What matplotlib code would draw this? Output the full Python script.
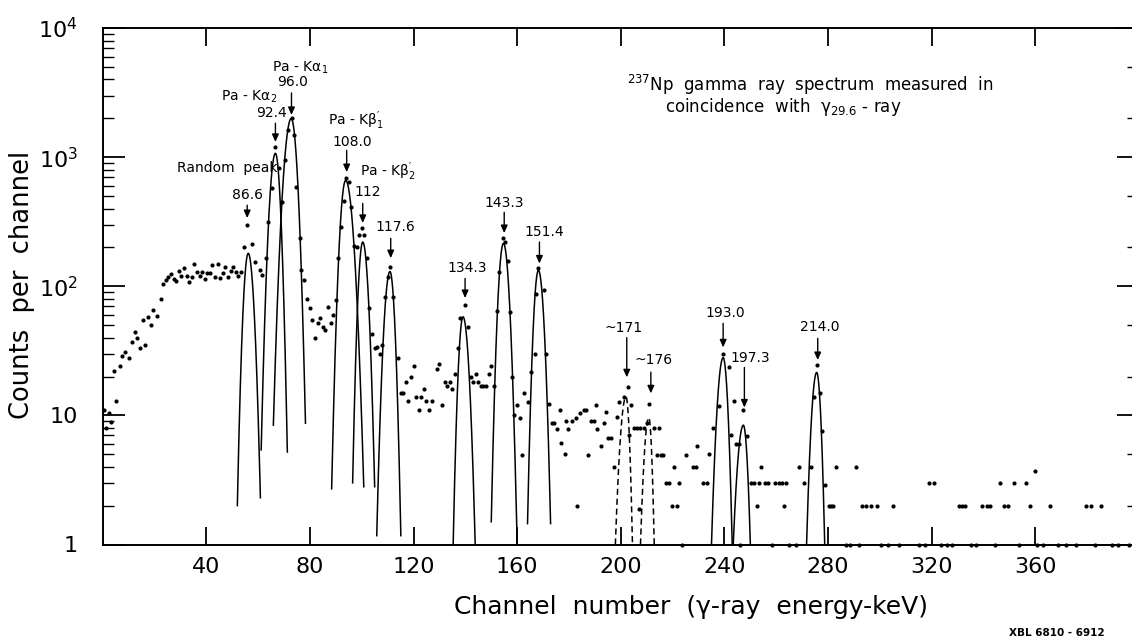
import numpy as np
import matplotlib
matplotlib.use("Agg")
import matplotlib.pyplot as plt
from matplotlib.ticker import FixedLocator, FixedFormatter, NullLocator, NullFormatter

plt.rcParams['font.family'] = ['DejaVu Sans']
plt.rcParams['mathtext.default'] = 'regular'

# ---- measured counts per channel -------------------------------------------
# low-energy continuum (channels 0-54)
ch_low = [0.5, 1.2, 2.6, 3.2, 4.3, 5.3, 6.6, 7.6, 8.6, 10.0, 11.5, 12.6, 13.4,
          14.6, 15.4, 16.5, 17.5, 18.5, 19.4, 21.0, 22.4, 23.4,
          24.4, 25.4, 26.4, 27.4, 28.4, 29.4, 30.4, 31.4, 32.4, 33.4, 34.4,
          35.4, 36.4, 37.4, 38.4, 39.4, 40.4, 41.4, 42.4, 43.4, 44.4, 45.4,
          46.4, 47.4, 48.4, 49.4, 50.4, 51.4, 52.4, 53.4]
n_low = [11, 8, 10.5, 8.9, 22, 13, 24, 29, 31, 28, 37, 44, 40,
         33, 55, 35, 58, 50, 65, 59, 80, 104,
         111, 118, 124, 114, 110, 132, 121, 138, 121, 108, 118,
         150, 128, 121, 128, 113, 126, 127, 146, 118, 150, 115,
         127, 140, 118, 132, 140, 130, 120, 130]

# Pa K x-ray region (channels 54-135)
ch_kx = [54.7, 55.8, 57.8, 58.9, 60.8, 61.6, 63.0, 64.0, 65.5, 66.7, 68.2,
         69.3, 70.5, 71.7, 73.1, 74.0, 74.8, 76.0, 76.7, 77.9, 79.0,
         80, 81, 82, 83, 84, 85, 86, 87, 88, 89, 90, 91, 92, 93, 94, 95, 96,
         97, 98, 99, 100, 101, 102, 103, 104, 105, 106, 107, 108, 109, 110,
         111, 112, 114, 115, 116, 117, 118, 119, 120, 121, 122, 123, 124, 125,
         126, 127, 129, 130, 131, 132, 133, 134]
n_kx = [203, 297, 214, 153, 133, 122, 165, 315, 575, 1200, 830,
        447, 950, 1620, 2000, 1480, 590, 235, 133, 111, 80,
        68, 55, 40, 52, 57, 48, 46, 69, 52, 60, 78, 165, 288, 460, 690, 645,
        410, 205, 200, 250, 282, 250, 165, 68, 43, 33, 34, 30, 35, 82, 117,
        141, 82, 28, 15, 15, 18, 13, 20, 24, 14, 11, 14, 16, 13,
        11, 13, 23, 25, 12, 18, 17, 18]

# gamma lines 134-151 keV (channels 135-202)
ch_mid = [135, 136, 137, 138, 139.8, 141, 142, 143, 144, 145,
          146, 147, 148, 149, 150, 151, 152.3, 153.1, 154.6, 155.4,
          156.6, 157.4, 158.2, 158.8, 160.1, 161.2, 162, 162.8, 164, 165.5,
          166.7, 167.4, 168.2, 170.2, 171.3, 172.1, 173.3, 174.4, 175.2, 176.4,
          177.1, 178.3, 178.7, 179.8, 181, 182.6, 183, 184.1, 185.7, 186.4,
          187.2, 188.4, 189.5, 190.3, 191, 192.2, 193.4, 194.2, 195, 196.2,
          197.3, 198.4, 199.2, 201.2]
n_mid = [16, 21, 33, 57, 71, 48, 20, 18, 21, 18,
         17, 17, 17, 21, 24, 17, 64, 129, 235, 219,
         158, 63, 20, 10, 12, 9.6, 4.9, 15, 12.6, 21.6,
         30, 87, 138, 93, 30, 12.3, 8.8, 8.8, 7.9, 11,
         6.1, 5, 9, 7.9, 9, 9.6, 2, 10.5, 11, 11,
         4.9, 9, 9, 12, 7.8, 5.8, 8.7, 10.7, 6.7, 6.7,
         4, 9.8, 12.6, 14]

# weak lines 171-214 keV (channels 202-283)
ch_high = [202.7, 203.1, 203.9, 205.0, 206.3, 207.0, 207.6, 208.9, 210.0, 210.9,
           212.8, 213.9, 214.7, 215.4, 216.2, 217.4, 218.7, 219.8, 220.6, 221.8,
           222.6, 225.2, 227.9, 228.9, 229.6, 231.8, 233.1, 234.2, 235.7, 237.9,
           239.6, 241.9, 242.7, 243.8, 244.6, 245.6, 247.3, 248.8, 250.4, 251.5,
           252.5, 253.5, 254.3, 255.6, 257.0, 259.6, 260.9, 262.2, 262.9, 263.8,
           268.7, 270.6, 273.3, 274.7, 275.8, 276.9, 277.8, 278.9, 280.2, 281.1,
           282.0, 282.9]
n_high = [16.6, 7, 12, 8, 8, 1.9, 8, 8, 8.7, 12.3,
          8, 4.9, 8, 4.9, 4.9, 3, 3, 2, 4, 2,
          3, 4.9, 4, 4, 5.8, 3, 3, 5, 8, 11.8,
          30, 23.5, 7, 13, 6, 6, 11, 6.9, 3, 3,
          2, 3, 4, 3, 3, 3, 3, 3, 2, 3,
          4, 3, 4, 13.8, 24.4, 15, 7.6, 2.9, 2, 2,
          2, 4]

# sparse tail (channels 290-398)
ch_tail = [290.7, 293.0, 294.5, 296.5, 299.0, 305.0, 319.0, 321.0, 330.5, 331.7,
           333.0, 339.5, 341.3, 342.6, 346.5, 347.8, 349.5, 351.6, 356.2, 357.8,
           359.7, 365.5, 379.5, 381.5, 385.5]
n_tail = [4, 2, 2, 2, 2, 2, 3, 3, 2, 2,
          2, 2, 2, 2, 3, 2, 2, 3, 3, 2,
          3.7, 2, 2, 2, 2]

# channels holding a single count (they sit on the baseline)
ch_single = [223.5, 246.0, 258.5, 265.0, 267.5, 287.0, 288.5, 291.8, 300.5,
             303.0, 307.4, 315.0, 317.4, 323.5, 326.0, 328.0, 335.0, 337.0,
             344.5, 353.5, 360.5, 363.0, 368.6, 371.7, 375.6, 383.0, 389.5,
             392.0, 396.0]
n_single = [1] * len(ch_single)

# ---- fitted peak shapes --------------------------------------------------
peak_center = [56.2, 66.7, 72.8, 93.8, 100.4, 110.9, 139.1, 154.7, 168.2,
               202.0, 210.8, 239.5, 247.3, 275.6]
peak_height = [180, 1070, 1990, 660, 220, 130, 58, 215, 133,
               13.9, 9.6, 28, 8.4, 21.5]
foot_left = [52.0, 61.2, 65.9, 88.4, 96.5, 105.8, 135.3, 150.0, 164.0,
             197.9, 207.6, 235.0, 243.4, 271.7]
foot_right = [60.9, 71.3, 78.3, 100.8, 105.0, 115.1, 143.8, 160.0, 172.9,
              204.5, 212.9, 243.0, 250.0, 278.7]
floor_left = [2.0, 5.4, 8.4, 2.7, 3.0, 1.17, 1.0, 1.5, 1.45,
              1.0, 1.0, 1.0, 1.0, 1.0]
floor_right = [2.3, 5.2, 8.7, 2.8, 2.8, 1.17, 1.0, 1.0, 1.45,
               1.0, 1.0, 1.0, 1.0, 1.0]
tentative = [False, False, False, False, False, False, False, False, False,
             True, True, False, False, False]

# ---- peak identifications (energy labels and arrows) ---------------------
label_text = ["86.6", "92.4", "96.0", "108.0", "112", "117.6", "134.3",
              "143.3", "151.4", "~171", "~176", "193.0", "197.3", "214.0"]
label_ch = [56.1, 65.0, 73.5, 96.3, 102.4, 112.9, 140.7, 154.9, 170.4,
            200.9, 212.8, 240.2, 249.9, 276.9]
label_y = [507, 2193, 3811, 1306, 535, 287, 138, 440, 262,
           47.3, 26.7, 61.8, 27.7, 48.1]
arrow_ch = [55.8, 66.7, 72.9, 94.2, 100.4, 111.2, 139.9, 155.0, 168.6,
            202.3, 211.6, 239.5, 247.7, 276.0]
arrow_from = [424, 1830, 3140, 1130, 438, 235, 115, 374, 220,
              40, 21.6, 51.6, 23.5, 39.5]
arrow_to = [337, 1310, 2120, 765, 309, 165, 81, 258, 150,
            19.7, 14.8, 33.6, 11.5, 26.8]

line_names = ["Random  peak", r"Pa - K$\alpha_{2}$", r"Pa - K$\alpha_{1}$",
              r"Pa - K$\beta^{\prime}_{1}$", r"Pa - K$\beta^{\prime}_{2}$"]
line_name_ch = [48.0, 56.5, 76.2, 97.8, 110.2]
line_name_y = [822, 2917, 4898, 1901, 765]

x_ticks = [40, 80, 120, 160, 200, 240, 280, 320, 360]
y_ticks = [1, 10, 100, 1000, 10000]
y_tick_labels = ["1", "10", "$10^{2}$", "$10^{3}$", "$10^{4}$"]

# ---- figure --------------------------------------------------------------
W, H = 1132, 639
X_MAX = 399
fig = plt.figure(figsize=(W / 100, H / 100), dpi=100)
ax = fig.add_axes([102.6 / W, 1 - 544.5 / H, 2.591 * X_MAX / W, 516.5 / H])
ax.set_yscale('log')
ax.set_xlim(0, X_MAX)
ax.set_ylim(1, 1e4)

for chs, ns in [(ch_low, n_low), (ch_kx, n_kx), (ch_mid, n_mid),
                (ch_high, n_high), (ch_tail, n_tail), (ch_single, n_single)]:
    ax.plot(chs, ns, linestyle='none', marker='o', ms=3.0, color='black',
            mec='none', clip_on=False, zorder=3)

for c, h, l, r, fl, fr, dashed in zip(peak_center, peak_height, foot_left,
                                      foot_right, floor_left, floor_right,
                                      tentative):
    sl = (c - l) / np.sqrt(2 * np.log(h / fl))
    sr = (r - c) / np.sqrt(2 * np.log(h / fr))
    xl = np.linspace(l, c, 80)
    xr = np.linspace(c, r, 80)
    xs = np.concatenate([xl, xr])
    ys = np.concatenate([h * np.exp(-(xl - c) ** 2 / (2 * sl ** 2)),
                         h * np.exp(-(xr - c) ** 2 / (2 * sr ** 2))])
    ax.plot(xs, ys, color='black', lw=1.1,
            linestyle=(0, (4, 2.5)) if dashed else '-', zorder=2)

for txt, lx, ly in zip(label_text, label_ch, label_y):
    ax.text(lx, ly, txt, fontsize=10, ha='center', va='center')
for a_ch, a0, a1 in zip(arrow_ch, arrow_from, arrow_to):
    ax.annotate('', xy=(a_ch, a1), xytext=(a_ch, a0),
                arrowprops=dict(arrowstyle='-|>,head_length=0.45,head_width=0.2',
                                lw=1.0, color='black', shrinkA=0, shrinkB=0,
                                mutation_scale=10))
for txt, lx, ly in zip(line_names, line_name_ch, line_name_y):
    ax.text(lx, ly, txt, fontsize=10, ha='center', va='center')

# axes frame and ticks
for side in ['left', 'bottom', 'top']:
    ax.spines[side].set_linewidth(1.4)
ax.spines['right'].set_visible(False)

ax.xaxis.set_major_locator(FixedLocator(x_ticks))
ax.xaxis.set_minor_locator(NullLocator())
ax.tick_params(axis='x', which='major', direction='in', length=13, width=1.3,
               top=True, bottom=True, labelsize=16, pad=9)

ax.yaxis.set_major_locator(FixedLocator(y_ticks))
ax.yaxis.set_major_formatter(FixedFormatter(y_tick_labels))
ax.yaxis.set_minor_locator(FixedLocator(
    [m * 10 ** k for k in range(4) for m in range(2, 10)]))
ax.yaxis.set_minor_formatter(NullFormatter())
ax.tick_params(axis='y', which='major', direction='in', length=16, width=1.3,
               left=True, right=False, labelsize=16, pad=18)
ax.tick_params(axis='y', which='minor', direction='in', length=8, width=1.0,
               left=True, right=False)

# right-hand scale: decades plus marks at 2 and 5
ax_r = ax.twinx()
ax_r.set_yscale('log')
ax_r.set_ylim(1, 1e4)
for side in ax_r.spines:
    ax_r.spines[side].set_visible(False)
ax_r.yaxis.set_major_locator(FixedLocator(y_ticks))
ax_r.yaxis.set_major_formatter(NullFormatter())
ax_r.yaxis.set_minor_locator(FixedLocator(
    [m * 10 ** k for k in range(4) for m in (2, 5)]))
ax_r.yaxis.set_minor_formatter(NullFormatter())
ax_r.tick_params(axis='y', which='major', direction='in', length=14, width=1.3)
ax_r.tick_params(axis='y', which='minor', direction='in', length=6.5, width=1.0)

# text
fig.text(627 / W, 1 - 85 / H, r"$^{237}$Np  gamma  ray  spectrum  measured  in",
         fontsize=12, ha='left', va='center')
fig.text(665 / W, 1 - 107 / H, r"coincidence  with  $\gamma_{29.6}$ - ray",
         fontsize=12, ha='left', va='center')
fig.text(691 / W, 1 - 607 / H, "Channel  number  (γ-ray  energy-keV)",
         fontsize=18, ha='center', va='center')
fig.text(22 / W, 1 - 285 / H, "Counts  per  channel", fontsize=18.5,
         rotation=90, ha='center', va='center')
fig.text(1057 / W, 1 - 633 / H, "XBL 6810 - 6912", fontsize=7.5,
         fontweight='bold', ha='center', va='center')

fig.savefig("out.png", dpi=100)
